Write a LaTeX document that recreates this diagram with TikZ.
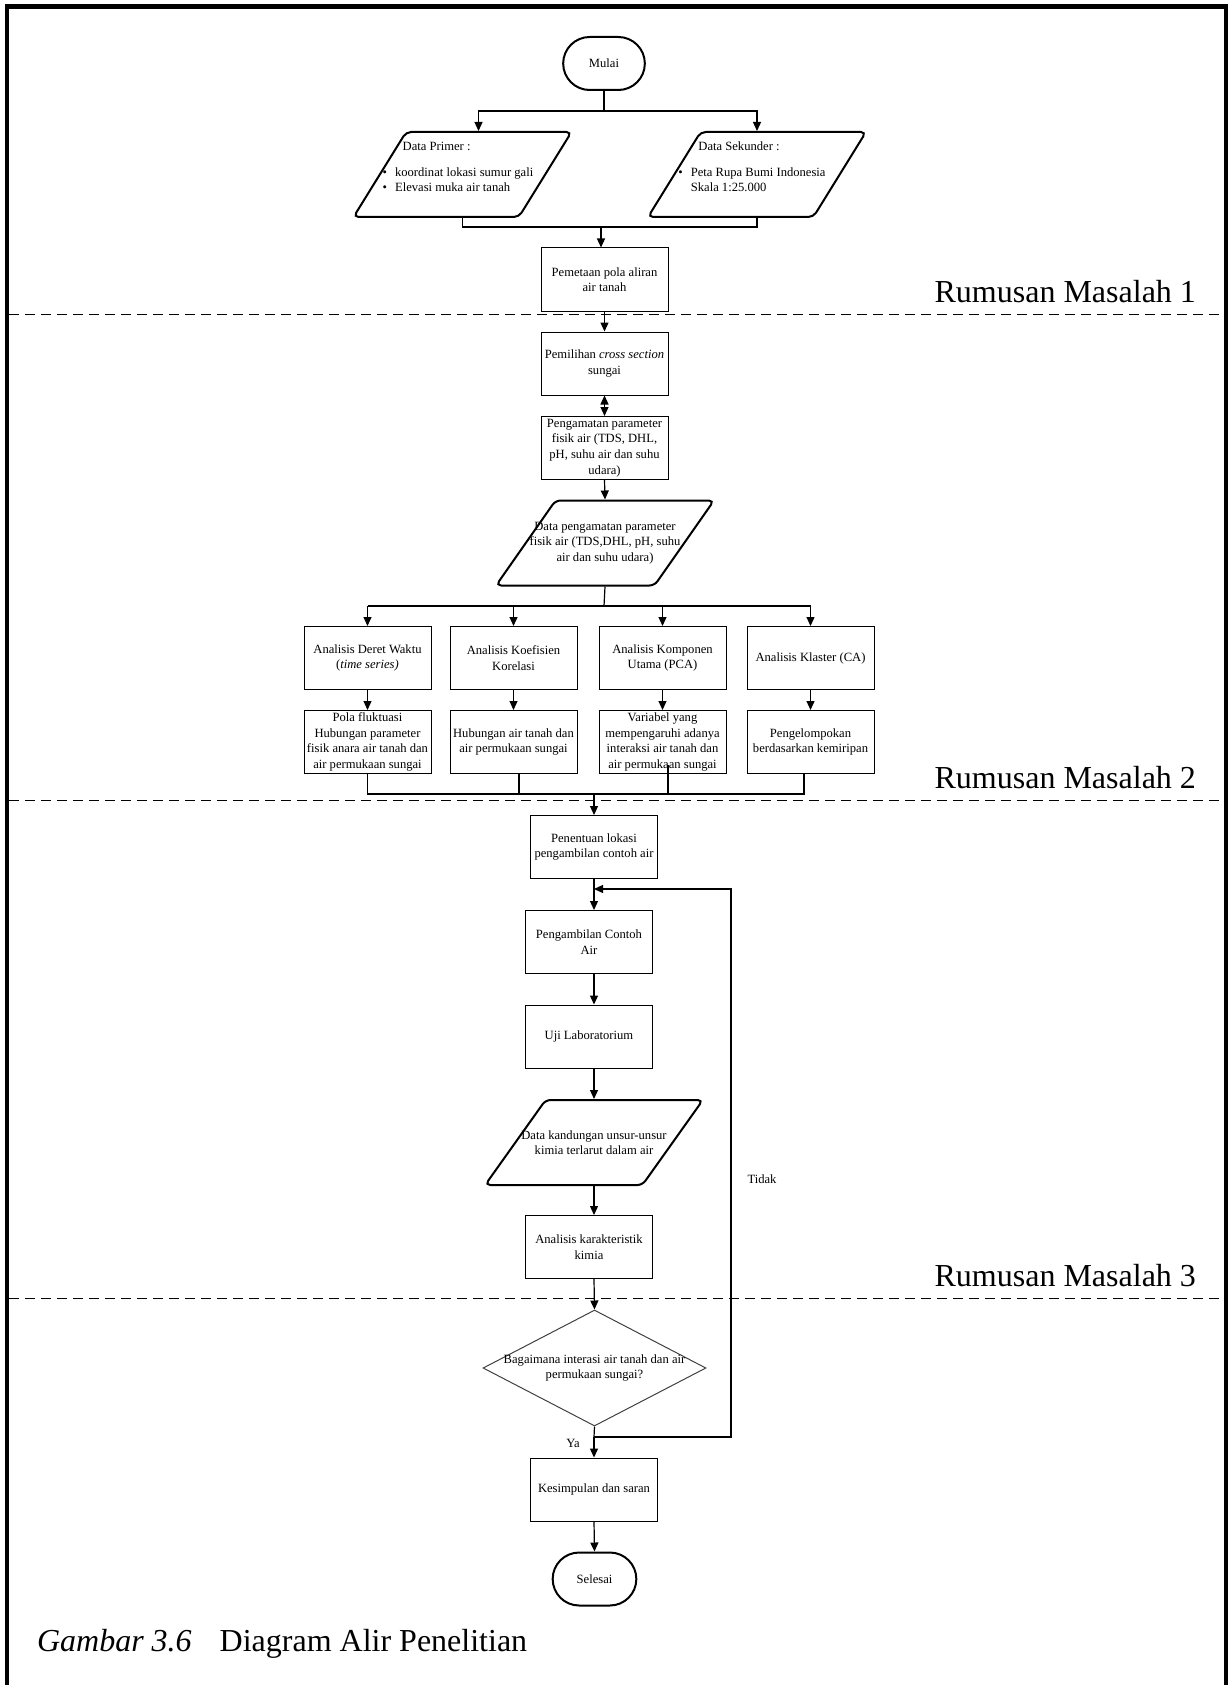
\documentclass[tikz,border=0pt]{standalone}
\usepackage{fontspec}
\setmainfont{Liberation Serif}
\usetikzlibrary{shapes,arrows.meta,positioning,calc}

\begin{document}
\begin{tikzpicture}[x=0.5pt,y=-0.5pt,
    font=\fontsize{6.3}{7.8}\selectfont,
    proses/.style={draw, line width=0.5pt, minimum width=63.5pt, minimum height=31.5pt, inner sep=1pt, align=center},
    terminal/.style={draw, rounded rectangle, line width=1pt, minimum width=47.5pt, minimum height=26.5pt},
    dataio/.style={draw, trapezium, trapezium stretches=true, line width=1pt, rounded corners=2.5pt, minimum width=109pt, minimum height=42.5pt},
    panah/.style={-{Triangle[length=4.5pt,width=4pt]}, line width=0.6pt},
    garis/.style={line width=0.6pt},
    batas/.style={dash pattern=on 5pt off 3pt, line width=0.5pt},
    judul/.style={font=\fontsize{16}{19}\selectfont, anchor=base east}]
            \useasboundingbox (0,0) rectangle (1228,1685);
            % Frame
            \draw[line width=2.2pt] (7,1685) -- (7,6.5) -- (1226,6.5) -- (1226,1685);

            % Mulai
            \node[terminal] (mulai) at (604,63.5) {Mulai};

            % Data
            \node[dataio, trapezium left angle=65, trapezium right angle=115] (primer) at (462.5,174.5) {};
            \node[align=left] (primertxt) at (458,167) {\hspace*{10pt}Data Primer :\\[5pt]
                \textbullet\hspace{4pt}koordinat lokasi sumur gali\\
                \textbullet\hspace{4pt}Elevasi muka air tanah};
            \node[dataio, trapezium left angle=65, trapezium right angle=115] (sekunder) at (757,174.5) {};
            \node[align=left] (sekundertxt) at (752,167) {\hspace*{10pt}Data Sekunder :\\[5pt]
                \textbullet\hspace{4pt}Peta Rupa Bumi Indonesia\\
                \phantom{\textbullet}\hspace{4pt}Skala 1:25.000};

            \coordinate (cabang1) at (604,111);
            \draw[garis] (mulai.south) -- (cabang1);
            \draw[panah] (cabang1) -| ([xshift=8pt]primer.north);
            \draw[panah] (cabang1) -| (sekunder.north);

            % Rumusan Masalah 1
            \node[proses] (pemetaan) at (604.5,279.5) {Pemetaan pola aliran\\air tanah};
            \coordinate (gabung1) at (601,227);
            \draw[garis] (primer.south) |- (gabung1) -| (sekunder.south);
            \draw[panah] (gabung1) -- (gabung1 |- pemetaan.north);
            \draw[batas] (9,314) -- (1224,314);
            \node[judul] (rm1) at (1203,302) {Rumusan Masalah 1};

            % Rumusan Masalah 2
            \node[proses] (pemilihan) at (604.5,363.5) {Pemilihan \textit{cross section}\\sungai};
            \node[proses] (pengamatan) at (604.5,448) {Pengamatan parameter\\fisik air (TDS, DHL,\\pH, suhu air dan suhu\\udara)};
            \node[dataio, trapezium left angle=59, trapezium right angle=121] (dpa) at (605,543) {};
            \node[align=center] (dpatxt) at (dpa) {Data pengamatan parameter\\fisik air (TDS,DHL, pH, suhu\\air dan suhu udara)};
            \draw[panah] (pemetaan.south) -- (pemilihan.north);
            \draw[{Triangle[length=4.5pt,width=4pt]}-{Triangle[length=4.5pt,width=4pt]}, line width=0.6pt] (pemilihan.south) -- (pengamatan.north);
            \draw[panah] (pengamatan.south) -- (dpa.north);

            \node[proses] (a1) at (367.5,658) {Analisis Deret Waktu\\(\textit{time series)}};
            \node[proses] (a2) at (513.5,658) {Analisis Koefisien\\Korelasi};
            \node[proses] (a3) at (662.5,658) {Analisis Komponen\\Utama (PCA)};
            \node[proses] (a4) at (810.5,658) {Analisis Klaster (CA)};
            \node[proses] (h1) at (367.5,742) {Pola fluktuasi\\Hubungan parameter\\fisik anara air tanah dan\\air permukaan sungai};
            \node[proses] (h2) at (513.5,742) {Hubungan air tanah dan\\air permukaan sungai};
            \node[proses] (h3) at (662.5,742) {Variabel yang\\mempengaruhi adanya\\interaksi air tanah dan\\air permukaan sungai};
            \node[proses] (h4) at (810.5,742) {Pengelompokan\\berdasarkan kemiripan};

            \coordinate (cabang2) at (604,606);
            \draw[garis] (dpa.south) -- (cabang2);
            \draw[garis] (cabang2 -| a1.north) -- (cabang2 -| a4.north);
            \foreach \n/\m in {a1/h1,a2/h2,a3/h3,a4/h4} {
                \draw[panah] (cabang2 -| \n.north) -- (\n.north);
                \draw[panah] (\n.south) -- (\m.north);
            }

            \coordinate (gabung2) at (594,794);
            \draw[garis] (h1.south) |- (gabung2);
            \draw[garis] ([xshift=2.75pt]h2.south) |- (gabung2);
            \draw[garis] ([xshift=2.75pt,yshift=4.5pt]h3.south) |- (gabung2);
            \draw[garis] ([xshift=-3.25pt]h4.south) |- (gabung2);
            \draw[batas] (9,800) -- (1224,800);
            \node[judul] (rm2) at (1203,788) {Rumusan Masalah 2};

            % Rumusan Masalah 3
            \node[proses] (penentuan) at (594,847) {Penentuan lokasi\\pengambilan contoh air};
            \node[proses] (ambil) at (589,942) {Pengambilan Contoh\\Air};
            \node[proses] (uji) at (589,1036.5) {Uji Laboratorium};
            \node[dataio, trapezium left angle=58, trapezium right angle=122] (dk) at (594,1142.5) {};
            \node[align=center] (dktxt) at (dk) {Data kandungan unsur-unsur\\kimia terlarut dalam air};
            \node[proses] (akar) at (589,1247) {Analisis karakteristik\\kimia};
            \draw[panah] (gabung2) -- (penentuan.north);
            \draw[panah] (penentuan.south) -- (penentuan.south |- ambil.north);
            \draw[panah] (penentuan.south |- ambil.south) -- (penentuan.south |- uji.north);
            \draw[panah] (penentuan.south |- uji.south) -- (dk.north);
            \draw[panah] (dk.south) -- (penentuan.south |- akar.north);
            \draw[batas] (9,1298) -- (1224,1298);
            \node[judul] (rm3) at (1203,1286) {Rumusan Masalah 3};

            % Keputusan
            \node[draw=black!75, line width=0.5pt, diamond, minimum width=111.5pt, minimum height=58pt, inner sep=0pt] (tanya) at (594.5,1368) {};
            \node[align=center] (tanyatxt) at (tanya) {Bagaimana interasi air tanah dan air\\permukaan sungai?};
            \draw[panah] (penentuan.south |- akar.south) -- (tanya.north);

            \coordinate (ya) at (594,1437);
            \coordinate (kembali) at (594,889);
            \node[proses] (simpul) at (594,1489.5) {Kesimpulan dan saran};
            \node[terminal, minimum width=48.5pt] (selesai) at (594.5,1579) {Selesai};
            \draw[garis] (tanya.south) -- (ya);
            \draw[panah] (ya) -- (simpul.north);
            \draw[panah] (ya) -- ++(137,0) |- (kembali);
            \draw[panah] (simpul.south) -- (selesai.north);
            \node (tidak) at (762,1179) {Tidak};
            \node (yalbl) at (573,1443) {Ya};

            % Caption
            \node[anchor=base west, font=\fontsize{16}{19}\selectfont] (caption) at (30,1651) {\textit{Gambar 3.6}\hspace{14pt}Diagram Alir Penelitian};
\end{tikzpicture}
\end{document}
